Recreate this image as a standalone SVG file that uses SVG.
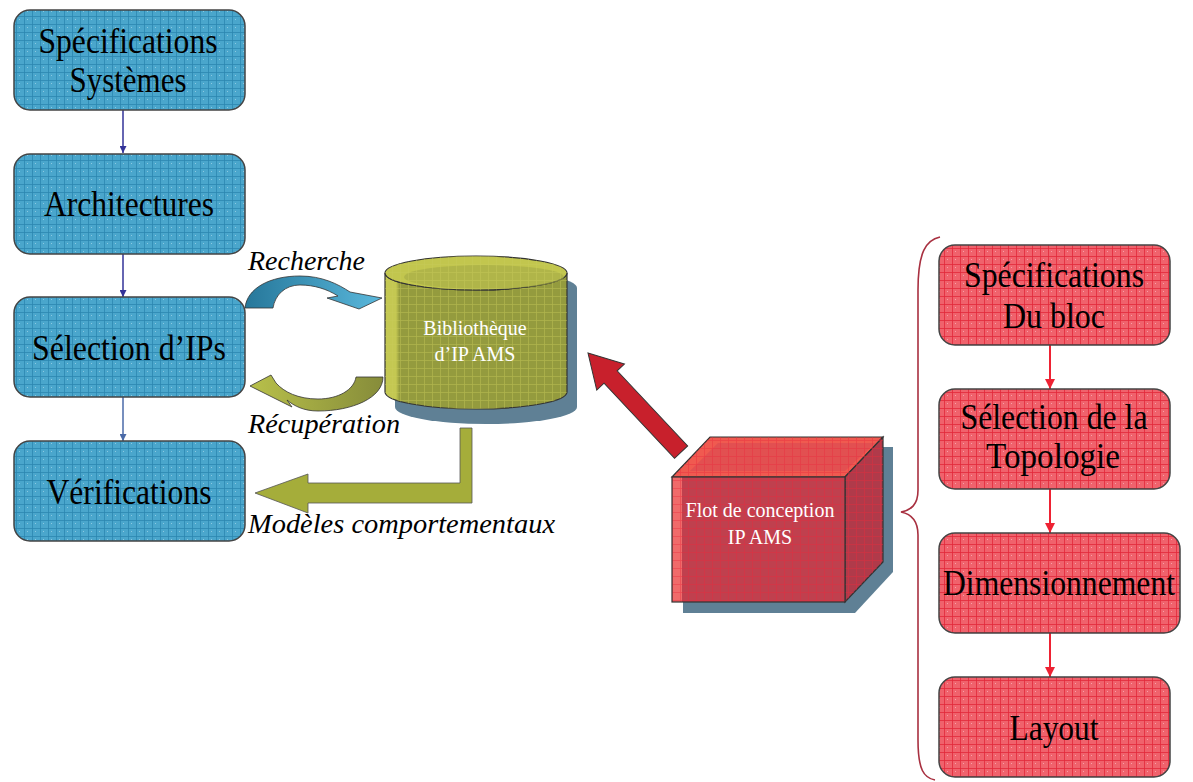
<svg xmlns="http://www.w3.org/2000/svg" width="1193" height="782" viewBox="0 0 1193 782">
<style>
.lbl{font-family:"Liberation Serif","Times New Roman",serif;font-size:36px;fill:#000;text-anchor:middle}
.wt{font-family:"Liberation Serif","Times New Roman",serif;font-size:20px;fill:#fff;text-anchor:middle}
.it{font-family:"Liberation Serif","Times New Roman",serif;font-size:28px;font-style:italic;fill:#000}
.bbox{fill:url(#gBlue);stroke:#444;stroke-width:1.5}
.rbox{fill:url(#gRed);stroke:#444;stroke-width:1.5}
.bl{stroke:#333399;stroke-width:1.5;fill:none;marker-end:url(#mBlue)}
.rl{stroke:#ee2233;stroke-width:2;fill:none;marker-end:url(#mRed)}
</style>
<defs>
<pattern id="gBlue" width="8" height="8" patternUnits="userSpaceOnUse">
<rect width="8" height="8" fill="#4aa6cc"/>
<path d="M0,0.5H8M0.5,0V8" stroke="#2c86b0" stroke-width="0.8"/>
<rect x="3" y="3" width="1" height="1" fill="#8cc8e0"/>
</pattern>
<pattern id="gRed" width="8" height="8" patternUnits="userSpaceOnUse">
<rect width="8" height="8" fill="#f0626c"/>
<path d="M0,0.5H8M0.5,0V8" stroke="#e2283a" stroke-width="0.8"/>
<rect x="3" y="3" width="1" height="1" fill="#f8a0a8"/>
</pattern>
<pattern id="gLine" width="8" height="8" patternUnits="userSpaceOnUse">
<path d="M0,0.5H8M0.5,0V8" stroke="#c8cc5a" stroke-width="0.8" opacity="0.5"/>
</pattern>
<pattern id="gLineR" width="8" height="8" patternUnits="userSpaceOnUse">
<path d="M0,0.5H8M0.5,0V8" stroke="#e82a3c" stroke-width="0.8" opacity="0.5"/>
</pattern>
<linearGradient id="cylBody" x1="0" x2="1" y1="0" y2="0">
<stop offset="0" stop-color="#c4c852"/>
<stop offset="0.06" stop-color="#c4c852"/>
<stop offset="0.08" stop-color="#949b3e"/>
<stop offset="1" stop-color="#949b3e"/>
</linearGradient>
<linearGradient id="blueArc" x1="0" x2="1" y1="0" y2="0">
<stop offset="0" stop-color="#26779a"/>
<stop offset="1" stop-color="#5ab8dc"/>
</linearGradient>
<linearGradient id="oliveArc" x1="0" x2="1" y1="0" y2="0">
<stop offset="0" stop-color="#b8c04a"/>
<stop offset="1" stop-color="#868c3a"/>
</linearGradient>
<marker id="mBlue" viewBox="0 0 10 10" refX="10" refY="5" markerWidth="7" markerHeight="7" markerUnits="userSpaceOnUse" orient="auto">
<path d="M0,0L10,5L0,10Z" fill="#333399"/>
</marker>
<marker id="mBlue2" viewBox="0 0 10 10" refX="10" refY="5" markerWidth="7" markerHeight="7" markerUnits="userSpaceOnUse" orient="auto">
<path d="M0,0L10,5L0,10Z" fill="#4a6aa8"/>
</marker>
<marker id="mRed" viewBox="0 0 10 10" refX="10" refY="5" markerWidth="10" markerHeight="10" markerUnits="userSpaceOnUse" orient="auto">
<path d="M0,0L10,5L0,10Z" fill="#ee2233"/>
</marker>
</defs>

<g id="connectors">
<line class="bl" x1="123" y1="110" x2="123" y2="153"/>
<line class="bl" x1="123" y1="254" x2="123" y2="297"/>
<line x1="123" y1="397" x2="123" y2="441" stroke="#4a6aa8" stroke-width="1.5" marker-end="url(#mBlue2)"/>
<line class="rl" x1="1050" y1="345" x2="1050" y2="389"/>
<line class="rl" x1="1050" y1="489" x2="1050" y2="533"/>
<line class="rl" x1="1050" y1="633" x2="1050" y2="677"/>
<path d="M245,308 C247,288 270,276 300,276 C322,276 338,284 350,292 L382,298 L359,309 L327,298 L338,296 C327,289 314,285 300,285 C285,285 275,295 273,308 Z" fill="url(#blueArc)" stroke="#333" stroke-width="0.8"/>
<path d="M383,377 C383,398 352,411 318,411 C304,411 294,406 287,400 L292,407 L250,386 L271,375 L276,383 C284,392 298,399 318,399 C338,399 354,390 356,377 Z" fill="url(#oliveArc)" stroke="#333" stroke-width="0.8"/>
<path d="M460,428 L472,428 L472,503 L308,503 L308,513 L255,493 L308,474 L308,483 L460,483 Z" fill="#a5ad3a" stroke="#555" stroke-width="0.8"/>
<polygon points="0,0 33,-19 33,-9 136,-9 136,9 33,9 33,19" transform="translate(588,353) rotate(46.8)" fill="#c8202c" stroke="#333" stroke-width="1"/>
<path d="M940,237 C926,240 918,252 918,290 L918,490 C918,505 911,510 901,512 C911,514 918,520 918,535 L918,740 C918,770 924,778 935,780" fill="none" stroke="#a83040" stroke-width="1.6"/>
</g>

<g id="n-spec-sys">
<rect class="bbox" x="14" y="10" width="231" height="100" rx="16"/>
<text class="lbl" x="128" y="53" textLength="179" lengthAdjust="spacingAndGlyphs">Spécifications</text>
<text class="lbl" x="128" y="92" textLength="117" lengthAdjust="spacingAndGlyphs">Systèmes</text>
</g>
<g id="n-archi">
<rect class="bbox" x="14" y="154" width="231" height="100" rx="16"/>
<text class="lbl" x="129" y="216" textLength="170" lengthAdjust="spacingAndGlyphs">Architectures</text>
</g>
<g id="n-sel-ip">
<rect class="bbox" x="14" y="297" width="231" height="100" rx="16"/>
<text class="lbl" x="129" y="360" textLength="194" lengthAdjust="spacingAndGlyphs">Sélection d’IPs</text>
</g>
<g id="n-verif">
<rect class="bbox" x="14" y="441" width="231" height="100" rx="16"/>
<text class="lbl" x="129" y="504" textLength="165" lengthAdjust="spacingAndGlyphs">Vérifications</text>
</g>

<g id="n-biblio">
<path d="M395,288 L395,407 A91,17 0 0 0 577,407 L577,288 A91,17 0 0 0 395,288 Z" fill="#5f8095"/>
<path d="M385,273 L385,392 A91,17 0 0 0 567,392 L567,273 A91,17 0 0 1 385,273 Z" fill="url(#cylBody)" stroke="#333" stroke-width="1.2"/>
<path d="M385,273 L385,392 A91,17 0 0 0 567,392 L567,273 A91,17 0 0 1 385,273 Z" fill="url(#gLine)"/>
<ellipse cx="476" cy="273" rx="91" ry="17" fill="#c2c64e" stroke="#333" stroke-width="1.2"/>
<ellipse cx="484" cy="277" rx="80" ry="12" fill="#a4aa46" opacity="0.6"/>
<ellipse cx="476" cy="273" rx="91" ry="17" fill="url(#gLine)"/>
<text class="wt" x="475" y="335">Bibliothèque</text>
<text class="wt" x="475" y="361">d’IP AMS</text>
</g>

<g id="n-flot">
<polygon points="683,488 720,447 893,447 893,572 855,613 683,613" fill="#5f8095"/>
<polygon points="672,477 710,437 883,437 845,477" fill="#f05a50" stroke="#333" stroke-width="1.2"/>
<polygon points="690,471 718,443 875,443 845,471" fill="#d84a52" opacity="0.6"/>
<polygon points="845,477 883,437 883,562 845,602" fill="#b03a4a" stroke="#333" stroke-width="1.2"/>
<rect x="672" y="477" width="173" height="125" fill="#c0404e"/>
<rect x="672" y="477" width="10" height="125" fill="#f06a6a"/>
<polygon points="672,477 710,437 883,437 883,562 845,602 672,602" fill="url(#gLineR)"/>
<rect x="672" y="477" width="173" height="125" fill="none" stroke="#333" stroke-width="1.2"/>
<text class="wt" x="760" y="517">Flot de conception</text>
<text class="wt" x="760" y="544">IP AMS</text>
</g>

<g id="n-spec-bloc">
<rect class="rbox" x="939" y="245" width="231" height="100" rx="16"/>
<text class="lbl" x="1054" y="287" textLength="180" lengthAdjust="spacingAndGlyphs">Spécifications</text>
<text class="lbl" x="1054" y="328" textLength="102" lengthAdjust="spacingAndGlyphs">Du bloc</text>
</g>
<g id="n-topo">
<rect class="rbox" x="939" y="389" width="231" height="100" rx="16"/>
<text class="lbl" x="1054" y="429" textLength="187" lengthAdjust="spacingAndGlyphs">Sélection de la</text>
<text class="lbl" x="1053" y="468" textLength="134" lengthAdjust="spacingAndGlyphs">Topologie</text>
</g>
<g id="n-dim">
<rect class="rbox" x="939" y="533" width="241" height="100" rx="16"/>
<text class="lbl" x="1059" y="595" textLength="232" lengthAdjust="spacingAndGlyphs">Dimensionnement</text>
</g>
<g id="n-layout">
<rect class="rbox" x="939" y="677" width="231" height="100" rx="16"/>
<text class="lbl" x="1054" y="740" textLength="89" lengthAdjust="spacingAndGlyphs">Layout</text>
</g>

<g id="labels">
<text class="it" x="248" y="270" textLength="117" lengthAdjust="spacingAndGlyphs">Recherche</text>
<text class="it" x="248" y="433" textLength="152" lengthAdjust="spacingAndGlyphs">Récupération</text>
<text class="it" x="248" y="533" textLength="307" lengthAdjust="spacingAndGlyphs">Modèles comportementaux</text>
</g>
</svg>
